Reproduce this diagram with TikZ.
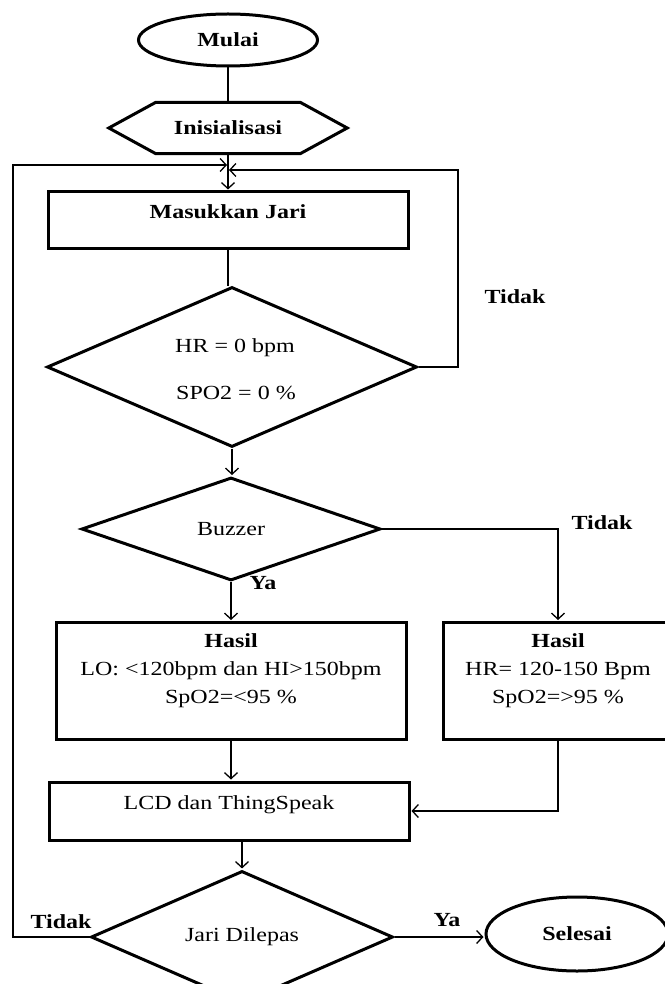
\documentclass[tikz,border=0pt]{standalone}
\usepackage{fontspec}
\setmainfont{Liberation Serif}[FakeStretch=1.2]
\usetikzlibrary{shapes.geometric,arrows.meta}

\begin{document}
\begin{tikzpicture}[x=1pt,y=-1pt]
    \tikzset{
      box/.style = {draw, line width=3pt, inner sep=0pt},
      term/.style = {box, ellipse},
      cond/.style = {box, diamond},
      txt/.style = {inner sep=0pt, font=\fontsize{20}{28}\selectfont},
      btxt/.style = {inner sep=0pt, font=\fontsize{20}{28}\selectfont\bfseries},
      link/.style = {line width=1.3pt},
      flow/.style = {link, -{Straight Barb[length=6pt,width=13pt]}, shorten >=1pt}
    }
    \useasboundingbox (0,0) rectangle (664,984);

    \node[term, btxt, minimum width=179pt, minimum height=52pt] (mulai) at (228,40) {Mulai};

    \node[btxt, minimum width=144pt, minimum height=51pt] (init) at (228,128) {Inisialisasi};
    \draw[box] (init.north west) -- (init.north east) -- ([xshift=47pt]init.east)
      -- (init.south east) -- (init.south west) -- ([xshift=-47pt]init.west) -- cycle;

    \node[box, minimum width=360pt, minimum height=56pt] (masuk) at (228,220) {};
    \node[btxt] (masukteks) at (228,212) {Masukkan Jari};

    \node[cond, minimum width=370pt, minimum height=160pt] (hr) at (232,367) {};
    \node[txt] (hrteks) at (235,348) {HR = 0 bpm};
    \node[txt] (spoteks) at (236,393) {SPO2 = 0 \%};

    \node[cond, txt, minimum width=299pt, minimum height=103pt] (buzz) at (231,529) {Buzzer};

    \node[box, minimum width=350pt, minimum height=117pt] (hasil1) at (231,681) {};
    \node[txt, align=center] (hasil1teks) at (231,671)
      {\textbf{Hasil}\\LO: <120bpm dan HI>150bpm\\SpO2=<95 \%};
    \node[box, minimum width=230pt, minimum height=117pt] (hasil2) at (558,681) {};
    \node[txt, align=center] (hasil2teks) at (558,671)
      {\textbf{Hasil}\\HR= 120-150 Bpm\\SpO2=>95 \%};

    \node[box, minimum width=360pt, minimum height=58pt] (lcd) at (229,811) {};
    \node[txt] (lcdteks) at (229,805) {LCD dan ThingSpeak};

    \node[cond, txt, minimum width=302pt, minimum height=104pt] (jari) at (242,937) {Jari Dilepas};
    \node[term, btxt, minimum width=182pt, minimum height=74pt] (selesai) at (577,934) {Selesai};

    % labels
    \node[btxt] (tidak1) at (515,297) {Tidak};
    \node[btxt] (tidak2) at (602,523) {Tidak};
    \node[btxt] (ya1) at (263,583) {Ya};
    \node[btxt] (tidak3) at (61,922) {Tidak};
    \node[btxt] (ya2) at (447,920) {Ya};

    % loop corners
    \coordinate (kiri) at (13,165);
    \coordinate (kanan) at (458,170);

    \draw[link] (mulai.south) -- (init.north);
    \draw[flow] (init.south) -- (masuk.north);
    \draw[link] (masuk.south) -- (masuk.south |- hr.north);
    \draw[flow] (hr.south) -- (hr.south |- buzz.north);
    \draw[flow] (buzz.south) -- (hasil1.north);
    \draw[flow] (buzz.east) -| (hasil2.north);
    \draw[flow] (hasil1.south) -- (hasil1.south |- lcd.north);
    \draw[flow] (hasil2.south) |- (lcd.east);
    \draw[flow] (lcd.south -| jari.north) -- (jari.north);
    \draw[flow] (jari.east) -- (jari.east -| selesai.west);
    \draw[flow] (jari.west) -| (kiri) -- (kiri -| init.south);
    \draw[flow] (hr.east) -| (kanan) -- (kanan -| init.south);
\end{tikzpicture}
\end{document}
